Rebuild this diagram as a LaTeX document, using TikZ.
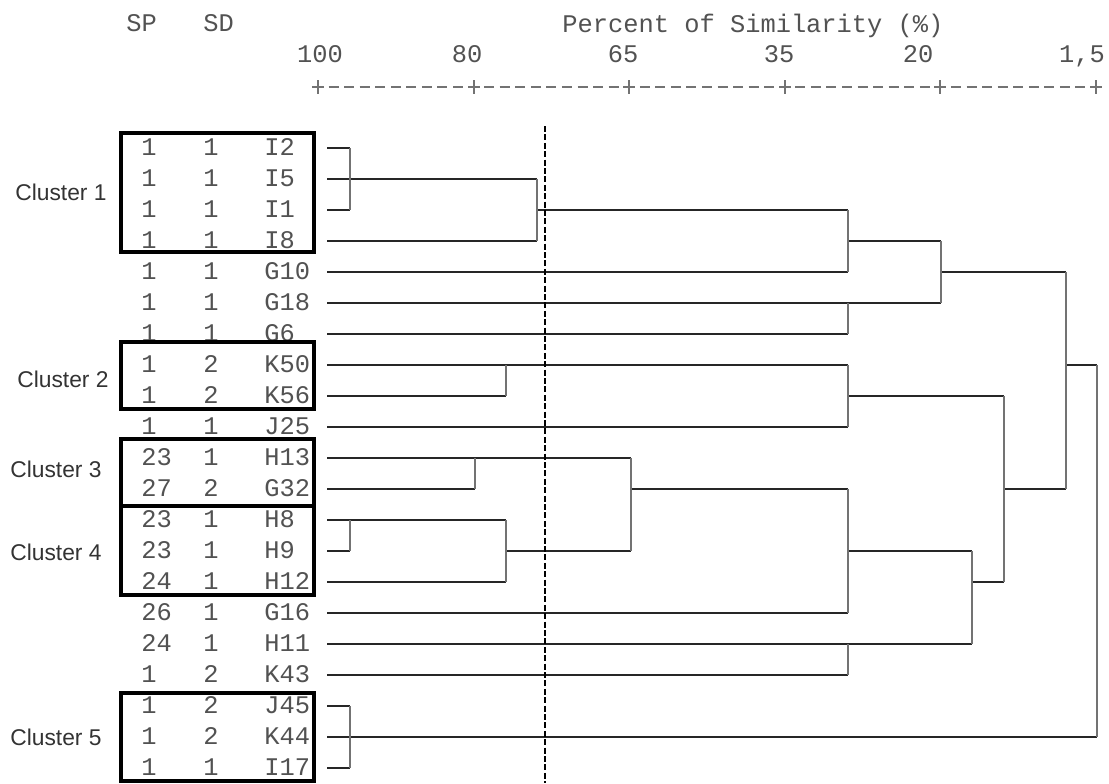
\documentclass[tikz,border=0pt]{standalone}
\usepackage{fontspec}
\setmainfont{Liberation Sans}
\setsansfont{Liberation Sans}
\setmonofont{Liberation Mono}
\usetikzlibrary{positioning, calc}

\begin{document}
\begin{tikzpicture}[
  x=0.5pt, y=-0.5pt,
  cell/.style={anchor=base west, inner sep=0pt, text=black!68,
               font=\ttfamily\fontsize{12.7}{15}\selectfont},
  scalelab/.style={cell, anchor=base},
  clname/.style={anchor=base east, inner sep=0pt, text=black!80,
                 font=\sffamily\fontsize{11.4}{13}\selectfont},
  clbox/.style={draw=black, line width=1.6pt},
  tree/.style={draw=black!85, line width=0.85pt},
  vtree/.style={draw=black!55, line width=0.85pt},
  cut/.style={draw=black, line width=1.4pt, dash pattern=on 3pt off 1.2pt},
  axisline/.style={draw=black!55, line width=0.7pt,
                   dash pattern=on 5pt off 2.78pt, dash phase=2.5pt}
]
  \useasboundingbox (0,0) rectangle (1109,783);

  % header and similarity scale
  \node[cell] (hSP) at (126,31.5) {SP};
  \node[cell] (hSD) at (203,31.5) {SD};
  \node[cell] (title) at (562,32) {Percent of Similarity (\%)};
  \coordinate (ax0) at (318,87);
  \coordinate (ax5) at (1096,87);
  \draw[axisline] (ax0) -- (ax5);
  \foreach \t/\l/\lab in {318/320/100, 474/467/80, 629/623/65,
                          785/779/35, 940/918/20, 1096/1082/{1,5}} {
    \node[scalelab] at (\l,62.5) {\lab};
    \draw[draw=black!55, line width=0.7pt] (\t-6,87) -- (\t+6,87) (\t,80) -- (\t,94);
  }

  % table of samples
  \foreach \sp/\sd/\id [count=\i from 0] in {1/1/I2, 1/1/I5, 1/1/I1, 1/1/I8,
      1/1/G10, 1/1/G18, 1/1/G6, 1/2/K50, 1/2/K56, 1/1/J25, 23/1/H13,
      27/2/G32, 23/1/H8, 23/1/H9, 24/1/H12, 26/1/G16, 24/1/H11, 1/2/K43,
      1/2/J45, 1/2/K44, 1/1/I17} {
    \node[cell] (sp\id) at (141,{148+31*\i+7.5}) {\sp};
    \node[cell] (sd\id) at (203,{148+31*\i+7.5}) {\sd};
    \node[cell] (\id) at (264,{148+31*\i+7.5}) {\id};
    \coordinate (\id-s) at (327,{148+31*\i});
  }

  % cluster frames
  \draw[clbox] (121,133) rectangle (314,252);
  \draw[clbox] (121,342) rectangle (314,409);
  \draw[clbox] (121,439) rectangle (314,506);
  \draw[clbox] (121,506) rectangle (314,595);
  \draw[clbox] (121,693) rectangle (314,781);
  \node[clname] (cl1) at (107,200) {Cluster 1};
  \node[clname] (cl2) at (109,387) {Cluster 2};
  \node[clname] (cl3) at (102,477) {Cluster 3};
  \node[clname] (cl4) at (102,560) {Cluster 4};
  \node[clname] (cl5) at (102,745) {Cluster 5};

  % merge points
  \coordinate (kA) at (350,179);
  \coordinate (kB) at (537,210);
  \coordinate (kC) at (848,241);
  \coordinate (kD) at (848,303);
  \coordinate (kE) at (941,272);
  \coordinate (kF) at (506,365);
  \coordinate (kG) at (848,396);
  \coordinate (kH) at (475,458);
  \coordinate (kI) at (350,520);
  \coordinate (kJ) at (506,551);
  \coordinate (kK) at (631,489);
  \coordinate (kL) at (848,551);
  \coordinate (kM) at (848,644);
  \coordinate (kN) at (972,582);
  \coordinate (kO) at (1004,489);
  \coordinate (kP) at (1066,365);
  \coordinate (kQ) at (350,737);
  \coordinate (kR) at (1097,365);

  % horizontal branches
  \draw[tree] (I2-s) -- (I2-s -| kA);
  \draw[tree] (I1-s) -- (I1-s -| kA);
  \draw[tree] (I5-s) -- (I5-s -| kB);
  \draw[tree] (I8-s) -- (I8-s -| kB);
  \draw[tree] (kB) -- (kB -| kC);
  \draw[tree] (G10-s) -- (G10-s -| kC);
  \draw[tree] (G18-s) -- (G18-s -| kE);
  \draw[tree] (G6-s) -- (G6-s -| kD);
  \draw[tree] (kC) -- (kC -| kE);
  \draw[tree] (kE) -- (kE -| kP);
  \draw[tree] (K50-s) -- (K50-s -| kG);
  \draw[tree] (K56-s) -- (K56-s -| kF);
  \draw[tree] (J25-s) -- (J25-s -| kG);
  \draw[tree] (kG) -- (kG -| kO);
  \draw[tree] (H13-s) -- (H13-s -| kK);
  \draw[tree] (G32-s) -- (G32-s -| kH);
  \draw[tree] (H8-s) -- (H8-s -| kJ);
  \draw[tree] (H9-s) -- (H9-s -| kI);
  \draw[tree] (H12-s) -- (H12-s -| kJ);
  \draw[tree] (kJ) -- (kJ -| kK);
  \draw[tree] (kK) -- (kK -| kL);
  \draw[tree] (G16-s) -- (G16-s -| kL);
  \draw[tree] (kL) -- (kL -| kN);
  \draw[tree] (H11-s) -- (H11-s -| kN);
  \draw[tree] (K43-s) -- (K43-s -| kM);
  \draw[tree] (kN) -- (kN -| kO);
  \draw[tree] (kO) -- (kO -| kP);
  \draw[tree] (kP) -- (kR);
  \draw[tree] (J45-s) -- (J45-s -| kQ);
  \draw[tree] (I17-s) -- (I17-s -| kQ);
  \draw[tree] (K44-s) -- (K44-s -| kR);

  % vertical joins
  \draw[vtree] (kA |- I2-s) -- (kA |- I1-s);
  \draw[vtree] (kB |- I5-s) -- (kB |- I8-s);
  \draw[vtree] (kC |- kB) -- (kC |- G10-s);
  \draw[vtree] (kD |- G18-s) -- (kD |- G6-s);
  \draw[vtree] (kE |- kC) -- (kE |- G18-s);
  \draw[vtree] (kF |- K50-s) -- (kF |- K56-s);
  \draw[vtree] (kG |- K50-s) -- (kG |- J25-s);
  \draw[vtree] (kH |- H13-s) -- (kH |- G32-s);
  \draw[vtree] (kI |- H8-s) -- (kI |- H9-s);
  \draw[vtree] (kJ |- H8-s) -- (kJ |- H12-s);
  \draw[vtree] (kK |- H13-s) -- (kK |- kJ);
  \draw[vtree] (kL |- kK) -- (kL |- G16-s);
  \draw[vtree] (kM |- H11-s) -- (kM |- K43-s);
  \draw[vtree] (kN |- kL) -- (kN |- H11-s);
  \draw[vtree] (kO |- kG) -- (kO |- kN);
  \draw[vtree] (kP |- kE) -- (kP |- kO);
  \draw[vtree] (kQ |- J45-s) -- (kQ |- I17-s);
  \draw[vtree] (kR) -- (kR |- K44-s);

  % cut-off level
  \coordinate (cutT) at (545,126);
  \coordinate (cutB) at (545,783);
  \draw[cut] (cutT) -- (cutB);
\end{tikzpicture}
\end{document}
